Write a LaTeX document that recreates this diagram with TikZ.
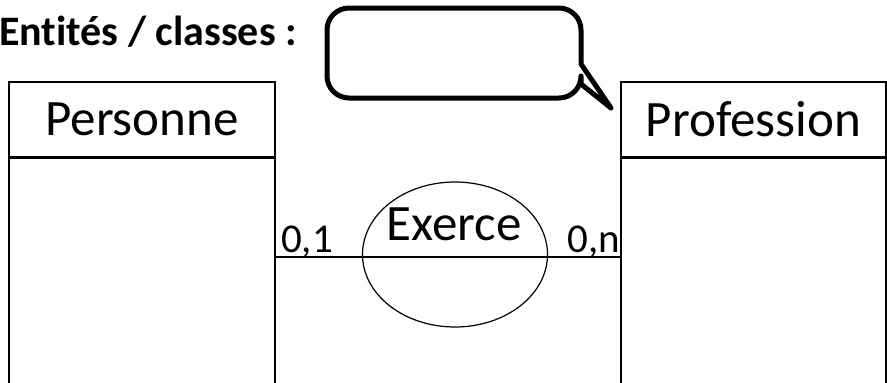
\documentclass[tikz,border=0pt]{standalone}
\usepackage{fontspec}
\setmainfont[Ligatures=NoCommon]{Carlito}
\usetikzlibrary{shapes.geometric}
\begin{document}
\begin{tikzpicture}[x=1pt,y=-1pt,
  box/.style={draw,line width=1.5pt,minimum width=266pt,inner sep=0pt},
  bigtxt/.style={font=\fontsize{51}{51}\selectfont},
  card/.style={font=\fontsize{41}{41}\selectfont,inner sep=0pt}]
\useasboundingbox (0,0) rectangle (887,383);
\node[anchor=base west,inner sep=0pt,font=\bfseries\fontsize{42}{42}\selectfont] (title) at (-1,45) {Entités / classes :};
% Personne
\node[box,minimum height=75pt,bigtxt] (phead) at (142,119.5) {Personne};
\node[box,minimum height=240pt,anchor=north] (pbody) at (phead.south) {};
% Profession
\node[box,minimum height=75pt,bigtxt,minimum width=265pt] (fhead) at (753.5,119.5) {Profession};
\node[box,minimum height=240pt,minimum width=265pt,anchor=north] (fbody) at (fhead.south) {};
% relation
\node[ellipse,draw,line width=1.2pt,minimum width=185pt,minimum height=145pt,inner sep=0pt] (rel) at (455,254.5) {};
\coordinate (lnk) at (455,257);
\node[bigtxt,inner sep=0pt,anchor=base] (reltxt) at (454,240) {Exerce};
\draw[line width=1.2pt] (pbody.east |- lnk) -- (fbody.west |- lnk);
\node[card,anchor=base west] (c1) at (281,252) {0,1};
\node[card,anchor=base east] (c2) at (620,252) {0,n};
% callout
\draw[line width=5pt,line join=round,line cap=round] (581,64) [rounded corners=22pt] -- (581,8) -- (327,8) -- (327,98) -- (581,98) [sharp corners] -- (581,84) -- (611,108) -- cycle;
\end{tikzpicture}
\end{document}
